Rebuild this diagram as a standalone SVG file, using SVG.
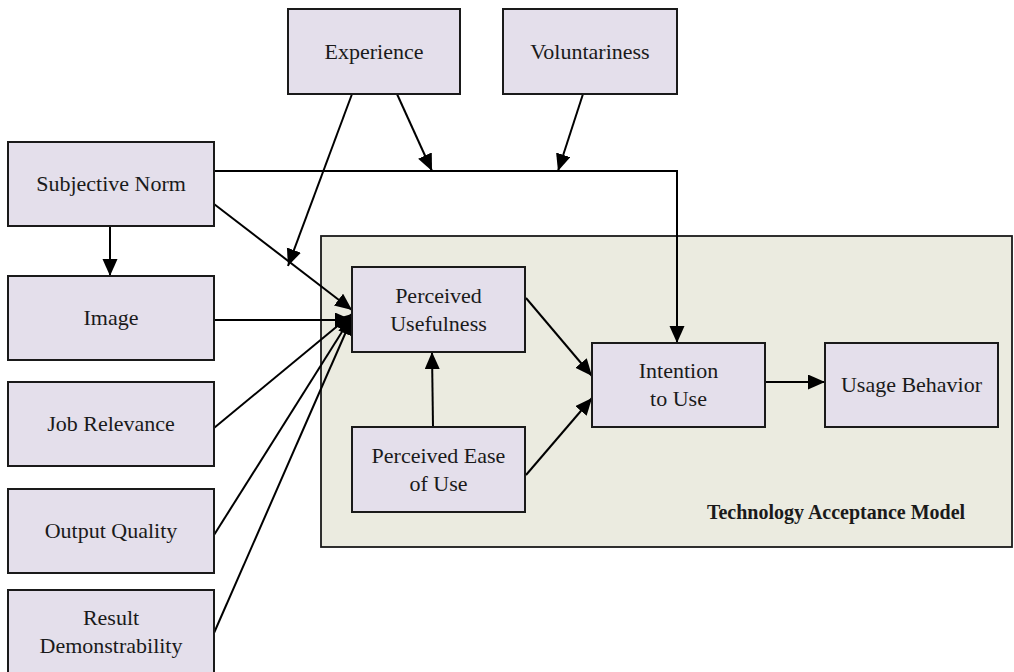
<svg xmlns="http://www.w3.org/2000/svg" width="1014" height="672" viewBox="0 0 1014 672">
<style>
.node{fill:#e4dfeb;stroke:#1a1a1a;stroke-width:2}
.txt{font-family:"Liberation Serif","Times New Roman",serif;font-size:22px;fill:#1a1a1a;text-anchor:middle}
.lbl{font-family:"Liberation Serif","Times New Roman",serif;font-size:20px;font-weight:bold;fill:#1a1a1a;text-anchor:middle}
.edge{fill:none;stroke:#000;stroke-width:2}
</style>
<defs>
<marker id="arr" markerUnits="userSpaceOnUse" markerWidth="18" markerHeight="16" refX="17" refY="7.5" orient="auto">
<path d="M0,0 L17,7.5 L0,15 z" fill="#000"/>
</marker>
</defs>
<rect width="1014" height="672" fill="#ffffff"/>
<g id="tam">
<rect x="321" y="236" width="691" height="311" fill="#ebebe0" stroke="#1a1a1a" stroke-width="1.8"/>
<text class="lbl" x="836" y="519">Technology Acceptance Model</text>
</g>
<g id="connectors">
<polyline class="edge" points="214,171 677,171 677,343" marker-end="url(#arr)"/>
<line class="edge" x1="397" y1="94" x2="432" y2="171" marker-end="url(#arr)"/>
<line class="edge" x1="583" y1="94" x2="558" y2="171" marker-end="url(#arr)"/>
<line class="edge" x1="352" y1="94" x2="288" y2="266" marker-end="url(#arr)"/>
<line class="edge" x1="110" y1="226" x2="110" y2="276" marker-end="url(#arr)"/>
<line class="edge" x1="214" y1="204" x2="352" y2="310" marker-end="url(#arr)"/>
<line class="edge" x1="214" y1="320" x2="352" y2="320" marker-end="url(#arr)"/>
<line class="edge" x1="214" y1="428" x2="352" y2="314" marker-end="url(#arr)"/>
<line class="edge" x1="214" y1="535" x2="352" y2="316" marker-end="url(#arr)"/>
<line class="edge" x1="214" y1="633" x2="352" y2="318" marker-end="url(#arr)"/>
<line class="edge" x1="526" y1="298" x2="592" y2="376" marker-end="url(#arr)"/>
<line class="edge" x1="526" y1="475" x2="592" y2="398" marker-end="url(#arr)"/>
<line class="edge" x1="433" y1="427" x2="432" y2="352" marker-end="url(#arr)"/>
<line class="edge" x1="765" y1="382" x2="825" y2="382" marker-end="url(#arr)"/>
</g>
<g id="experience"><rect class="node" x="288" y="9" width="172" height="85"/><text class="txt" x="374" y="58.5">Experience</text></g>
<g id="voluntariness"><rect class="node" x="503" y="9" width="174" height="85"/><text class="txt" x="590" y="58.5">Voluntariness</text></g>
<g id="subjective-norm"><rect class="node" x="8" y="142" width="206" height="84"/><text class="txt" x="111" y="191">Subjective Norm</text></g>
<g id="image"><rect class="node" x="8" y="276" width="206" height="84"/><text class="txt" x="111" y="325">Image</text></g>
<g id="job-relevance"><rect class="node" x="8" y="382" width="206" height="84"/><text class="txt" x="111" y="431">Job Relevance</text></g>
<g id="output-quality"><rect class="node" x="8" y="489" width="206" height="84"/><text class="txt" x="111" y="538">Output Quality</text></g>
<g id="result-demonstrability"><rect class="node" x="8" y="590" width="206" height="86"/><text class="txt" x="111" y="625">Result</text><text class="txt" x="111" y="653">Demonstrability</text></g>
<g id="perceived-usefulness"><rect class="node" x="352" y="267" width="173" height="85"/><text class="txt" x="438.5" y="302.5">Perceived</text><text class="txt" x="438.5" y="330.5">Usefulness</text></g>
<g id="perceived-ease-of-use"><rect class="node" x="352" y="427" width="173" height="85"/><text class="txt" x="438.5" y="462.5">Perceived Ease</text><text class="txt" x="438.5" y="490.5">of Use</text></g>
<g id="intention-to-use"><rect class="node" x="592" y="343" width="173" height="84"/><text class="txt" x="678.5" y="378">Intention</text><text class="txt" x="678.5" y="406">to Use</text></g>
<g id="usage-behavior"><rect class="node" x="825" y="343" width="173" height="84"/><text class="txt" x="911.5" y="392">Usage Behavior</text></g>
</svg>
